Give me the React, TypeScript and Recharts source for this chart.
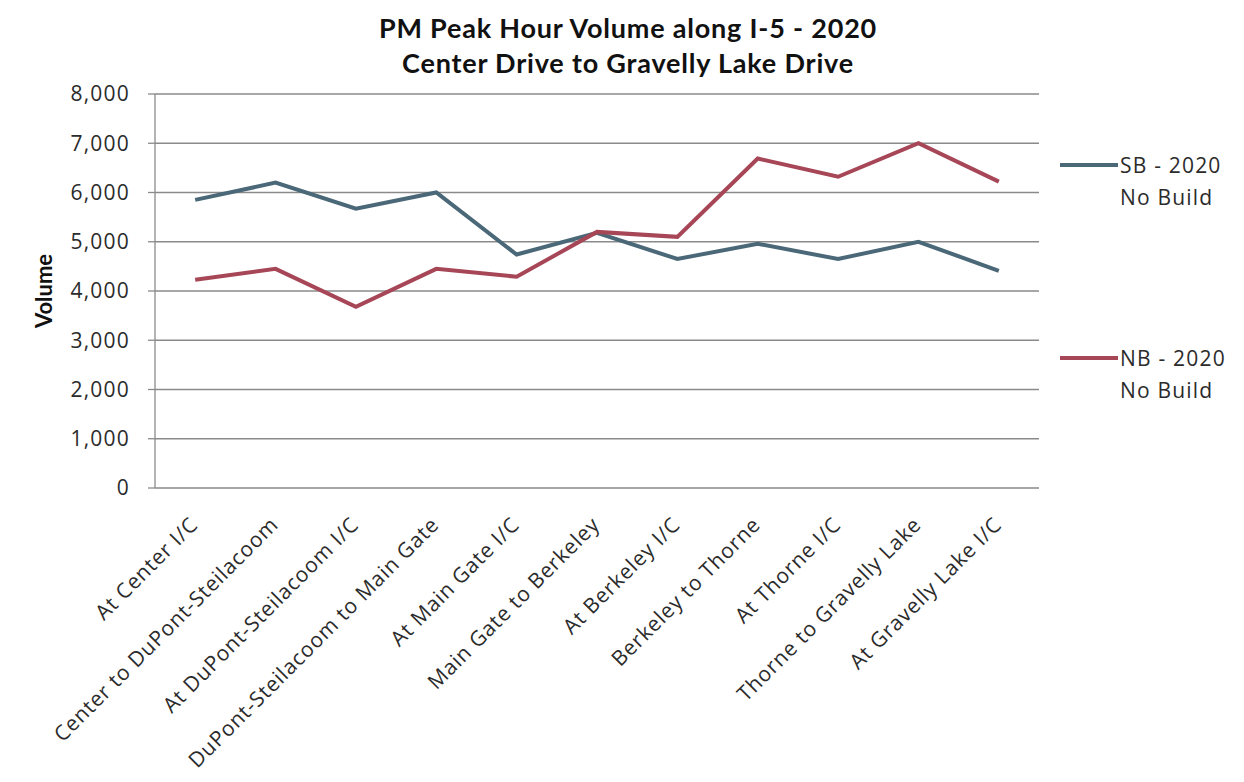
import React from 'react';
import { LineChart, Line, XAxis, YAxis, CartesianGrid } from 'recharts';

const categories = [
  'At Center I/C',
  'Center to DuPont-Steilacoom',
  'At DuPont-Steilacoom I/C',
  'DuPont-Steilacoom to Main Gate',
  'At Main Gate I/C',
  'Main Gate to Berkeley',
  'At Berkeley I/C',
  'Berkeley to Thorne',
  'At Thorne I/C',
  'Thorne to Gravelly Lake',
  'At Gravelly Lake I/C',
];
const sb2020 = [5850, 6200, 5670, 6000, 4740, 5180, 4650, 4960, 4650, 5000, 4410];
const nb2020 = [4230, 4450, 3680, 4450, 4290, 5200, 5100, 6690, 6320, 7000, 6220];
const yTicks = [0, 1000, 2000, 3000, 4000, 5000, 6000, 7000, 8000];
const boundaryTicks = [0, 1, 2, 3, 4, 5, 6, 7, 8, 9, 10, 11];

const SB_COLOR = '#4a6877';
const NB_COLOR = '#a64656';
const FONT = '"Open Sans", sans-serif';
const TEXT = '#2b2b2b';

const data = categories.map((name, i) => ({ name, sb: sb2020[i], nb: nb2020[i] }));

const fmt = (v: number) => v.toLocaleString('en-US');

function CategoryTick({ x, y, payload }: any) {
  return (
    <g transform={`translate(${x + 4},${y + 30})`}>
      <text
        x={0}
        y={0}
        textAnchor="end"
        transform="rotate(-45)"
        fontFamily={FONT}
        fontSize={21}
        letterSpacing={0.8}
        fill={TEXT}
      >
        {payload.value}
      </text>
    </g>
  );
}

function LegendItem({ color, top, label }: { color: string; top: number; label: string }) {
  return (
    <div style={{ position: 'absolute', left: 1060, top, fontFamily: FONT, fontSize: 21, letterSpacing: 1.2, color: TEXT, lineHeight: '32px' }}>
      <div style={{ position: 'absolute', left: 0, top: 14, width: 58, height: 4, background: color }} />
      <div style={{ marginLeft: 60 }}>{label}</div>
      <div style={{ marginLeft: 60 }}>No Build</div>
    </div>
  );
}

export default function App() {
  return (
    <div style={{ position: 'absolute', left: 0, top: 0, width: 1244, height: 782, background: '#fff' }}>
      <div style={{ position: 'absolute', left: 0, width: 1256, top: 10, textAlign: 'center', fontFamily: 'Lato, sans-serif', fontWeight: 700, fontSize: 27, letterSpacing: 0.8, lineHeight: '35px', color: '#111' }}>
        <div>PM Peak Hour Volume along I-5 - 2020</div>
        <div>Center Drive to Gravelly Lake Drive</div>
      </div>
      <LineChart
        width={1244}
        height={782}
        data={data}
        margin={{ top: 94, right: 205, bottom: 94, left: 45 }}
      >
        <CartesianGrid horizontal vertical={false} stroke="#8a8a8a" strokeWidth={1.3} />
        <XAxis
          xAxisId="bounds"
          type="number"
          domain={[0, 11]}
          ticks={boundaryTicks}
          allowDataOverflow
          height={0}
          tick={() => <g />}
          tickSize={6}
          axisLine={{ stroke: '#8a8a8a', strokeWidth: 1.3 }}
          tickLine={{ stroke: '#8a8a8a', strokeWidth: 1.3 }}
        />
        <XAxis
          xAxisId="cat"
          dataKey="name"
          scale="band"
          interval={0}
          height={200}
          axisLine={false}
          tickLine={false}
          tick={<CategoryTick />}
        />
        <YAxis
          width={110}
          domain={[0, 8000]}
          ticks={yTicks}
          tickFormatter={fmt}
          tickSize={7}
          tickMargin={18}
          axisLine={{ stroke: '#8a8a8a', strokeWidth: 1.3 }}
          tickLine={{ stroke: '#8a8a8a', strokeWidth: 1.3 }}
          tick={{ fontFamily: FONT, fontSize: 21, letterSpacing: 1.2, fill: TEXT }}
          label={({ viewBox }: any) => (
            <text
              x={viewBox.x + 7}
              y={viewBox.y + viewBox.height / 2}
              textAnchor="middle"
              transform={`rotate(-90, ${viewBox.x + 7}, ${viewBox.y + viewBox.height / 2})`}
              fontFamily="Lato, sans-serif"
              fontWeight={700}
              fontSize={22}
              fill="#111"
            >
              Volume
            </text>
          )}
        />
        <Line xAxisId="cat" type="linear" dataKey="sb" stroke={SB_COLOR} strokeWidth={4} dot={false} isAnimationActive={false} />
        <Line xAxisId="cat" type="linear" dataKey="nb" stroke={NB_COLOR} strokeWidth={4} dot={false} isAnimationActive={false} />
      </LineChart>
      <LegendItem color={SB_COLOR} top={149} label="SB - 2020" />
      <LegendItem color={NB_COLOR} top={342} label="NB - 2020" />
    </div>
  );
}
